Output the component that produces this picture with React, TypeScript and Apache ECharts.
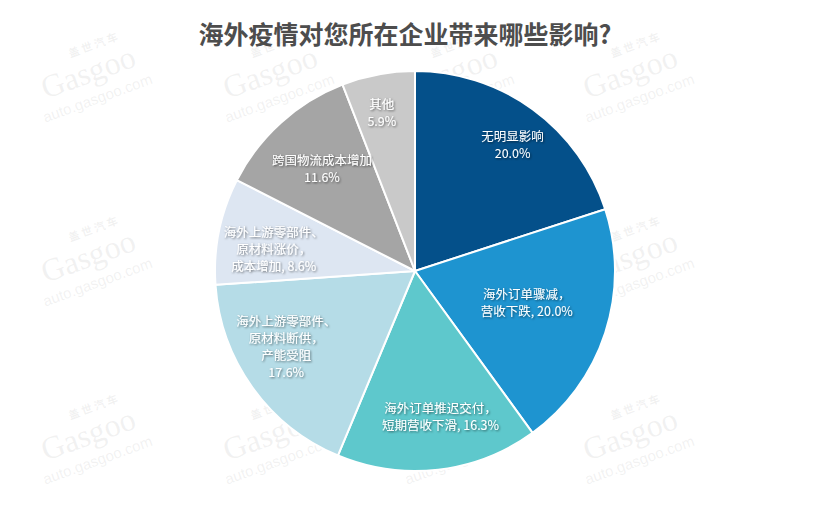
import React, { useEffect, useRef } from "react";
import * as echarts from "echarts";

const titleText = "海外疫情对您所在企业带来哪些影响?";
const categories = [
  "无明显影响\n20.0%",
  "海外订单骤减，\n营收下跌, 20.0%",
  "海外订单推迟交付，\n短期营收下滑, 16.3%",
  "海外上游零部件、\n原材料断供，\n产能受阻\n17.6%",
  "海外上游零部件、\n原材料涨价，\n成本增加, 8.6%",
  "跨国物流成本增加\n11.6%",
  "其他\n5.9%",
];
const values = [20.0, 20.0, 16.3, 17.6, 8.6, 11.6, 5.9];
const colors = ["#04508a", "#1e94d0", "#5ec8cc", "#b5dce7", "#dde6f2", "#a5a5a5", "#c9c9c9"];
const labelRadiusFrac = [0.8, 0.58, 0.735, 0.745, 0.715, 0.695, 0.81];
const labelAngleDeg = [37.6, 105.5, 170, 239.8, 278.9, 318, 348.2];

const CX = 415;
const CY = 271;
const R = 200;

const watermarkCols = [88, 270, 450, 630];
const watermarkRows = [72, 256, 434];

export default function App() {
  const ref = useRef<HTMLDivElement>(null);
  useEffect(() => {
    document.body.style.margin = "0";
    const chart = echarts.init(ref.current!, null, { renderer: "svg" });
    const graphics: any[] = [];
    const wm = "rgba(170,170,170,0.16)";
    watermarkRows.forEach((y) =>
      watermarkCols.forEach((x) => {
        graphics.push({
          type: "group",
          x,
          y,
          rotation: (20 * Math.PI) / 180,
          z: 100,
          silent: true,
          children: [
            {
              type: "text",
              x: 14,
              y: -30,
              style: { text: "盖 世 汽 车", fill: wm, font: "bold 11px 'Noto Sans CJK SC'", align: "center" },
            },
            {
              type: "text",
              x: 0,
              y: -16,
              style: { text: "Gasgoo", fill: wm, font: "32px 'Liberation Serif'", align: "center" },
            },
            {
              type: "text",
              x: 0,
              y: 20,
              style: { text: "auto.gasgoo.com", fill: wm, font: "15px 'Liberation Sans'", align: "center" },
            },
          ],
        });
      })
    );
    chart.setOption({
      animation: false,
      title: {
        text: titleText,
        left: 400,
        textAlign: "center",
        top: 15,
        textStyle: {
          fontFamily: "'Noto Sans CJK SC'",
          fontSize: 25,
          fontWeight: "bold",
          color: "#4d4d4d",
        },
      },
      graphic: graphics,
      series: [
        {
          type: "pie",
          center: [CX, CY],
          radius: [0, R],
          startAngle: 90,
          clockwise: true,
          avoidLabelOverlap: false,
          itemStyle: { borderColor: "#ffffff", borderWidth: 2 },
          label: {
            show: true,
            position: "inside",
            formatter: (p: any) => p.name,
            color: "#ffffff",
            fontSize: 12.5,
            lineHeight: 17,
            fontFamily: "'Noto Sans CJK SC'",
            textShadowColor: "rgba(0,0,0,0.55)",
            textShadowBlur: 2,
            textShadowOffsetX: 1,
            textShadowOffsetY: 1,
            align: "center",
          },
          labelLine: { show: false },
          labelLayout: (params: any) => {
            const i = params.dataIndex;
            const a = (labelAngleDeg[i] * Math.PI) / 180;
            const r = labelRadiusFrac[i] * R;
            return {
              x: CX + r * Math.sin(a),
              y: CY - r * Math.cos(a),
              align: "center",
              verticalAlign: "middle",
            };
          },
          data: values.map((v, i) => ({
            value: v,
            name: categories[i],
            itemStyle: { color: colors[i] },
          })),
        },
      ],
    });
    return () => chart.dispose();
  }, []);
  return <div ref={ref} style={{ width: 820, height: 513 }} />;
}
